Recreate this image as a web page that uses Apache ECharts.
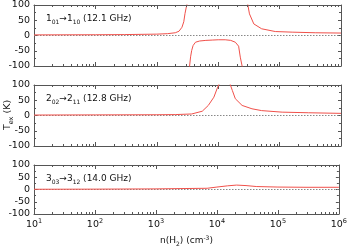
<!DOCTYPE html>
<html><head><meta charset="utf-8">
<script src="https://cdn.jsdelivr.net/npm/echarts@6/dist/echarts.min.js"></script>
<style>html,body{margin:0;padding:0;background:#fff}#c{width:350px;height:248px}</style>
</head><body><div id="c"></div>
<script>
// Panel 1: 1_01 -> 1_10 (12.1 GHz), three branches
const p1a_n = [10, 100, 300, 1000, 1500, 2000, 2300, 2570, 2750, 2880, 3000, 3090, 3200];
const p1a_t = [2, 2.5, 3, 4.5, 6, 9, 14, 27, 45, 72, 90, 100, 160];
const p1b_n = [3350, 3420, 3550, 3700, 3900, 4270, 5000, 6300, 8000, 10000, 13000, 16000, 19000, 21500, 22900, 24500, 25500];
const p1b_t = [-150, -100, -70, -49, -33, -22, -18, -16, -15, -14, -14, -16, -22, -35, -71, -100, -150];
const p1c_n = [28500, 30400, 32300, 38000, 51000, 85000, 160000, 380000, 1000000];
const p1c_t = [160, 100, 71, 38, 22, 13, 11, 9, 8];
// Panel 2: 2_02 -> 2_11 (12.8 GHz)
const p2_n = [10, 100, 1000, 2000, 3700, 5500, 6900, 8500, 9550, 10200, 12600, 15800, 17000, 19000, 24500, 35500, 51000, 110000, 295000, 1000000];
const p2_t = [1.5, 2, 2.5, 3, 5, 14, 33, 60, 87, 100, 160, 100, 82, 55, 33, 22, 16, 11, 9, 7];
// Panel 3: 3_03 -> 3_12 (14.0 GHz)
const p3_n = [10, 100, 1000, 3000, 6900, 10000, 15000, 21000, 30000, 45000, 100000, 300000, 1000000];
const p3_t = [1, 1.5, 2.5, 4, 5, 10, 15, 18, 16, 12, 10, 9, 9];
const panelLabels = [
  '{m|1}{s|01}{m|→1}{s|10}{m| (12.1 GHz)}',
  '{m|2}{s|02}{m|→2}{s|11}{m| (12.8 GHz)}',
  '{m|3}{s|03}{m|→3}{s|12}{m| (14.0 GHz)}'
];
// log minor tick positions (2..9 x 10^k)
const minorX = [];
for (let d = 1; d < 6; d++) for (let k = 2; k <= 9; k++) minorX.push(k * Math.pow(10, d));

const FONT = 'DejaVu Sans';
const frame = '#555';
const red = '#f0504a';
const grids = [
  {left: 34, right: 9, top: 5, height: 61},
  {left: 34, right: 9, top: 85, height: 61},
  {left: 34, right: 9, top: 165, height: 51}
];
function pairs(n, t){ return n.map((v,i)=>[v,t[i]]); }
const xAxes = [], yAxes = [];
grids.forEach((g, i) => {
  const last = i === 2;
  xAxes.push({
    type: 'log', logBase: 10, min: 10, max: 1e6, gridIndex: i, position: 'bottom',
    axisLine: {show: true, onZero: false, lineStyle: {color: frame, width: 1}},
    axisTick: {show: true, inside: true, length: 4, lineStyle: {color: frame}},
    minorTick: {show: false},
    splitLine: {show: false},
    axisLabel: {show: last, margin: 4, color: '#111', fontFamily: FONT,
      formatter: v => '{b|10}{s|' + Math.round(Math.log10(v)) + '}',
      rich: {b: {fontSize: 9.5, fontFamily: FONT, color: '#111', verticalAlign: 'bottom'},
             s: {fontSize: 6.5, fontFamily: FONT, color: '#111', verticalAlign: 'bottom', padding: [0,0,5,0]}}},
    name: last ? '{m|n(H}{s|2}{m|) (cm}{p|-3}{m|)}' : '',
    nameLocation: 'middle', nameGap: 21,
    nameTextStyle: {rich: {
      m: {fontSize: 9, fontFamily: FONT, color: '#111', verticalAlign: 'bottom', padding: [0,0,2,0]},
      s: {fontSize: 6, fontFamily: FONT, color: '#111', verticalAlign: 'bottom'},
      p: {fontSize: 6, fontFamily: FONT, color: '#111', verticalAlign: 'bottom', padding: [0,0,6,0]}}}
  });
  xAxes.push({
    type: 'log', logBase: 10, min: 10, max: 1e6, gridIndex: i, position: 'top',
    axisLine: {show: true, onZero: false, lineStyle: {color: frame, width: 1}},
    axisTick: {show: true, inside: true, length: 4, lineStyle: {color: frame}},
    minorTick: {show: false},
    splitLine: {show: false}, axisLabel: {show: false}
  });
  yAxes.push({
    type: 'value', min: -100, max: 100, interval: 50, gridIndex: i, position: 'left',
    axisLine: {show: true, onZero: false, lineStyle: {color: frame, width: 1}},
    axisTick: {show: true, inside: true, length: 3, lineStyle: {color: frame}},
    minorTick: {show: true, splitNumber: 2, length: 2, lineStyle: {color: frame}},
    splitLine: {show: false},
    axisLabel: {margin: 4, fontSize: 9.5, fontFamily: FONT, color: '#111'}
  });
  yAxes.push({
    type: 'value', min: -100, max: 100, interval: 50, gridIndex: i, position: 'right',
    axisLine: {show: true, onZero: false, lineStyle: {color: frame, width: 1}},
    axisTick: {show: true, inside: true, length: 3, lineStyle: {color: frame}},
    minorTick: {show: true, splitNumber: 2, length: 2, lineStyle: {color: frame}},
    splitLine: {show: false}, axisLabel: {show: false}
  });
});
function lineSeries(i, n, t, withZero){
  const s = {type: 'line', xAxisIndex: 2*i, yAxisIndex: 2*i, data: pairs(n, t),
    showSymbol: false, symbol: 'none', smooth: false, clip: true,
    lineStyle: {color: red, width: 1}, z: 3};
  if (withZero) s.markLine = {silent: true, symbol: 'none', label: {show: false},
    lineStyle: {color: '#888', type: [1.5, 1.5], width: 1}, data: [{yAxis: 0}], z: 2};
  return s;
}
function minorTickSeries(i){
  return {type: 'custom', xAxisIndex: 2*i, yAxisIndex: 2*i, silent: true, clip: false, z: 5,
    data: minorX.map(v => [v]),
    renderItem: (params, api) => {
      const b = api.coord([api.value(0), -100]);
      const t = api.coord([api.value(0), 100]);
      const x = Math.round(b[0]) + 0.5;
      const st = {stroke: frame, lineWidth: 1};
      return {type: 'group', children: [
        {type: 'line', shape: {x1: x, y1: b[1], x2: x, y2: b[1] - 2}, style: st},
        {type: 'line', shape: {x1: x, y1: t[1], x2: x, y2: t[1] + 2}, style: st}
      ]};
    }};
}
const series = [
  lineSeries(0, p1a_n, p1a_t, true),
  lineSeries(0, p1b_n, p1b_t, false),
  lineSeries(0, p1c_n, p1c_t, false),
  lineSeries(1, p2_n, p2_t, true),
  lineSeries(2, p3_n, p3_t, true),
  minorTickSeries(0), minorTickSeries(1), minorTickSeries(2)
];
const tops = [5, 85, 165];
const richLbl = {
  m: {fontSize: 9, fontFamily: FONT, fill: '#111', verticalAlign: 'bottom', padding: [0,0,2,0]},
  s: {fontSize: 6, fontFamily: FONT, fill: '#111', verticalAlign: 'bottom'}};
const graphic = panelLabels.map((txt, i) => ({
  type: 'text', x: 46, y: tops[i] + 15, silent: true,
  style: {text: txt, verticalAlign: 'middle', align: 'left', rich: richLbl}
}));
graphic.push({
  type: 'text', x: 9, y: 115, rotation: Math.PI / 2, silent: true,
  style: {text: '{m|T}{s|ex}{m| (K)}', align: 'center', verticalAlign: 'middle', rich: {
    m: {fontSize: 9.5, fontFamily: FONT, fill: '#111', verticalAlign: 'bottom', padding: [0,0,2,0]},
    s: {fontSize: 6.5, fontFamily: FONT, fill: '#111', verticalAlign: 'bottom'}}}
});
const chart = echarts.init(document.getElementById('c'), null, {renderer: 'canvas'});
chart.setOption({animation: false, grid: grids, xAxis: xAxes, yAxis: yAxes, series, graphic});
</script></body></html>
